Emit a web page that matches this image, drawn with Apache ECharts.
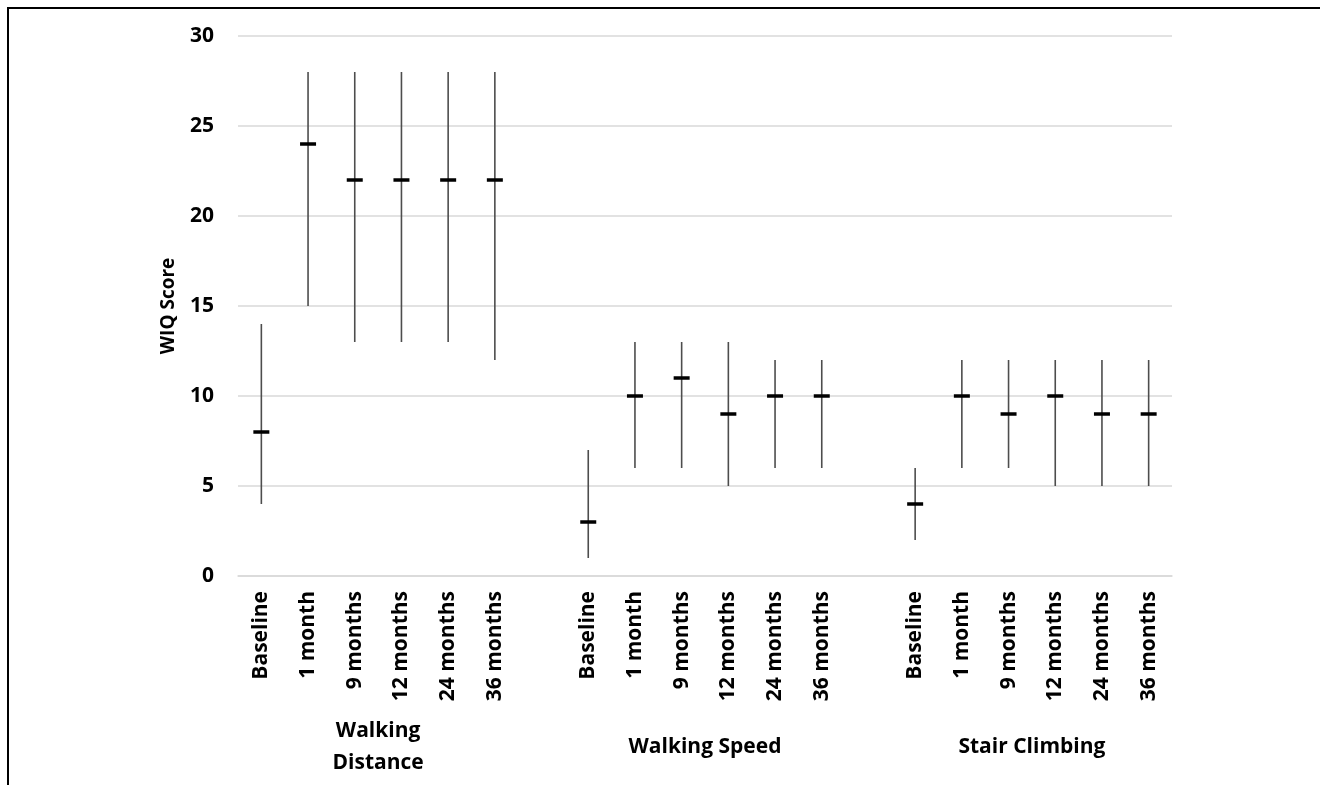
<!DOCTYPE html>
<html>
<head>
<meta charset="utf-8">
<script src="https://cdn.jsdelivr.net/npm/echarts@6/dist/echarts.min.js"></script>
<style>
  html, body { margin: 0; padding: 0; background: #fff; }
  .wrap { position: relative; width: 1320px; height: 785px; overflow: hidden; }
  #wiqChart { width: 1320px; height: 785px; }
  .frame {
    position: absolute; left: 7px; top: 7px; right: -20px; bottom: -20px;
    border-left: 2.5px solid #000; border-top: 2.5px solid #000;
    pointer-events: none;
  }
</style>
</head>
<body>
<div class="wrap">
  <div id="wiqChart"></div>
  <div class="frame"></div>
</div>
<script>
// time points for every domain
const timePoints = ["Baseline", "1 month", "9 months", "12 months", "24 months", "36 months"];
const groupNames = ["Walking\nDistance", "Walking Speed", "Stair Climbing"];

// median and range (min / max)
const distanceMedian = [8, 24, 22, 22, 22, 22];
const distanceLow = [4, 15, 13, 13, 13, 12];
const distanceHigh = [14, 28, 28, 28, 28, 28];

const speedMedian = [3, 10, 11, 9, 10, 10];
const speedLow = [1, 6, 6, 5, 6, 6];
const speedHigh = [7, 13, 13, 13, 12, 12];

const stairMedian = [4, 10, 9, 10, 9, 9];
const stairLow = [2, 6, 6, 5, 5, 5];
const stairHigh = [6, 12, 12, 12, 12, 12];

const yTicks = [0, 5, 10, 15, 20, 25, 30];

const FONT = "'Open Sans', 'DejaVu Sans', sans-serif";

// categories with one empty slot between groups
const categories = [];
const seriesData = [];
const groupRanges = [];
const groups = [
  [distanceLow, distanceHigh, distanceMedian],
  [speedLow, speedHigh, speedMedian],
  [stairLow, stairHigh, stairMedian],
];
groups.forEach((g, gi) => {
  if (gi > 0) categories.push(" ".repeat(gi));
  const start = categories.length;
  timePoints.forEach((t, i) => {
    seriesData.push([categories.length, g[0][i], g[1][i], g[2][i]]);
    categories.push(t);
  });
  groupRanges.push([start, categories.length - 1]);
});

const wiqChart = echarts.init(document.getElementById("wiqChart"));

const option = {
  animation: false,
  grid: {
    left: 238,
    right: 148,
    top: 36,
    bottom: 209,
  },
  xAxis: {
    type: "category",
    data: categories,
    axisLine: { lineStyle: { color: "#d9d9d9", width: 1.5 } },
    axisTick: { show: false },
    axisLabel: {
      interval: 0,
      rotate: 90,
      margin: 15,
      color: "#000",
      fontFamily: FONT,
      fontWeight: "bold",
      fontSize: 21,
    },
  },
  yAxis: {
    type: "value",
    min: 0,
    max: 30,
    interval: 5,
    name: "WIQ Score",
    nameLocation: "middle",
    nameGap: 60,
    nameTextStyle: {
      color: "#000",
      fontFamily: FONT,
      fontWeight: "bold",
      fontSize: 19,
    },
    axisLine: { show: false },
    axisTick: { show: false },
    axisLabel: {
      margin: 24,
      color: "#000",
      fontFamily: FONT,
      fontWeight: "bold",
      fontSize: 21,
      formatter: (v) => (yTicks.indexOf(v) >= 0 ? String(v) : ""),
    },
    splitLine: { lineStyle: { color: "#d9d9d9", width: 1.5 } },
  },
  series: [
    {
      type: "custom",
      data: seriesData,
      encode: { x: 0, y: [1, 2, 3] },
      renderItem: function (params, api) {
        const lo = api.coord([api.value(0), api.value(1)]);
        const hi = api.coord([api.value(0), api.value(2)]);
        const md = api.coord([api.value(0), api.value(3)]);
        return {
          type: "group",
          children: [
            {
              type: "line",
              shape: { x1: lo[0], y1: lo[1], x2: hi[0], y2: hi[1] },
              style: { stroke: "#4d4d4d", lineWidth: 1.6 },
            },
            {
              type: "line",
              shape: { x1: md[0] - 8, y1: md[1], x2: md[0] + 8, y2: md[1] },
              style: { stroke: "#000", lineWidth: 3.5 },
            },
          ],
        };
      },
    },
  ],
};

wiqChart.setOption(option);

// group titles under the tick labels, centred on each group
const groupTexts = groupRanges.map((r, i) => {
  const x0 = wiqChart.convertToPixel({ xAxisIndex: 0 }, r[0]);
  const x1 = wiqChart.convertToPixel({ xAxisIndex: 0 }, r[1]);
  return {
    type: "text",
    x: (x0 + x1) / 2,
    y: 747,
    style: {
      text: groupNames[i],
      fill: "#000",
      font: "bold 21px " + FONT,
      align: "center",
      verticalAlign: "middle",
      lineHeight: 32,
    },
  };
});
wiqChart.setOption({ graphic: groupTexts });

window.addEventListener("resize", () => {
  wiqChart.resize();
});
</script>
</body>
</html>
